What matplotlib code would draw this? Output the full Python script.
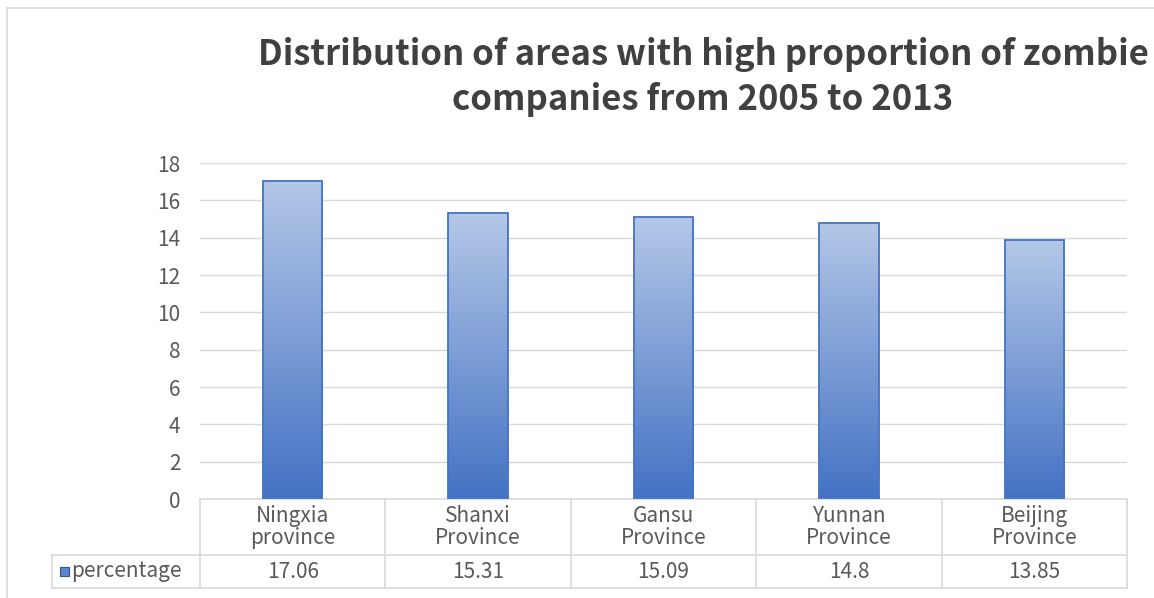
import numpy as np
import matplotlib
matplotlib.use("Agg")
import matplotlib.pyplot as plt
from matplotlib.colors import LinearSegmentedColormap
from matplotlib.patches import Rectangle
from matplotlib.lines import Line2D
import matplotlib.transforms as mtransforms

# data
categories = ["Ningxia\nprovince", "Shanxi\nProvince", "Gansu\nProvince",
              "Yunnan\nProvince", "Beijing\nProvince"]
values = [17.06, 15.31, 15.09, 14.8, 13.85]
value_labels = ["17.06", "15.31", "15.09", "14.8", "13.85"]
series_name = "percentage"
yticks = [0, 2, 4, 6, 8, 10, 12, 14, 16, 18]
title = "Distribution of areas with high proportion of zombie\ncompanies from 2005 to 2013"

plt.rcParams['font.family'] = ['Noto Sans CJK SC', 'DejaVu Sans']

W, H = 1154, 598
fig = plt.figure(figsize=(W / 100, H / 100), dpi=100)

grid_c = "#d9d9d9"
text_c = "#595959"
fs = 15

# outer chart border (cut off on right / bottom)
fig.add_artist(Line2D([7 / W, 7 / W], [0, 1 - 8 / H], color=grid_c, lw=1.2))
fig.add_artist(Line2D([7 / W, 1], [1 - 8 / H, 1 - 8 / H], color=grid_c, lw=1.2))

# plot area
left, right, top, bot = 200, 1127, 163, 499
ax = fig.add_axes([left / W, (H - bot) / H, (right - left) / W, (bot - top) / H])
x = np.arange(len(categories))
ax.set_yticks(yticks)
ax.set_xticks([])
for s in ax.spines.values():
    s.set_visible(False)
ax.tick_params(axis='y', length=0, labelsize=fs, labelcolor=text_c, pad=14)
ax.yaxis.grid(True, color=grid_c, lw=1)
ax.set_axisbelow(True)

cmap = LinearSegmentedColormap.from_list("g", ["#4472c4", "#b4c7e7"])
grad = np.linspace(0, 1, 256).reshape(-1, 1)
bw = 0.32
bars = ax.bar(x, values, width=bw, color="none", edgecolor="#4472c4", lw=1.3, zorder=3)
for b in bars:
    bx, by = b.get_x(), b.get_y()
    im = ax.imshow(grad, cmap=cmap, origin="lower", aspect="auto",
                   extent=[bx, bx + b.get_width(), by, by + b.get_height()], zorder=2)
    im.set_clip_path(b)
ax.set_xlim(-0.5, len(categories) - 0.5)
ax.set_ylim(0, 18)

# data table under the axis
trans = mtransforms.blended_transform_factory(ax.transData, ax.transAxes)
ph = bot - top
row1 = -56 / ph
row2 = -89 / ph
leg_left = -0.5 - 148 / 185.4
n = len(categories)
kw = dict(color=grid_c, lw=1.2, transform=trans, clip_on=False)
ax.add_line(Line2D([-0.5, n - 0.5], [0, 0], **kw))
ax.add_line(Line2D([leg_left, n - 0.5], [row1, row1], **kw))
ax.add_line(Line2D([leg_left, n - 0.5], [row2, row2], **kw))
ax.add_line(Line2D([leg_left, leg_left], [row1, row2], **kw))
for i in range(n + 1):
    ax.add_line(Line2D([i - 0.5, i - 0.5], [0, row2], **kw))
for i, (c, v) in enumerate(zip(categories, value_labels)):
    ax.text(i, row1 / 2, c, ha="center", va="center", fontsize=fs, color=text_c,
            transform=trans, linespacing=1.0)
    ax.text(i, (row1 + row2) / 2, v, ha="center", va="center", fontsize=fs,
            color=text_c, transform=trans)

# legend key in table
ax.add_patch(Rectangle((leg_left + 0.045, (row1 + row2) / 2 - 0.014), 0.045, 0.028,
                       facecolor="#5b86d0", edgecolor="#2f5597", lw=0.8,
                       transform=trans, clip_on=False))
ax.text(leg_left + 0.105, (row1 + row2) / 2, series_name, ha="left", va="center",
        fontsize=fs, color=text_c, transform=trans)

fig.text(703 / W, 1 - 77 / H, title, ha="center", va="center", fontsize=25,
         fontweight="bold", color="#404040", linespacing=1.35)

fig.savefig("out.png", dpi=100)
